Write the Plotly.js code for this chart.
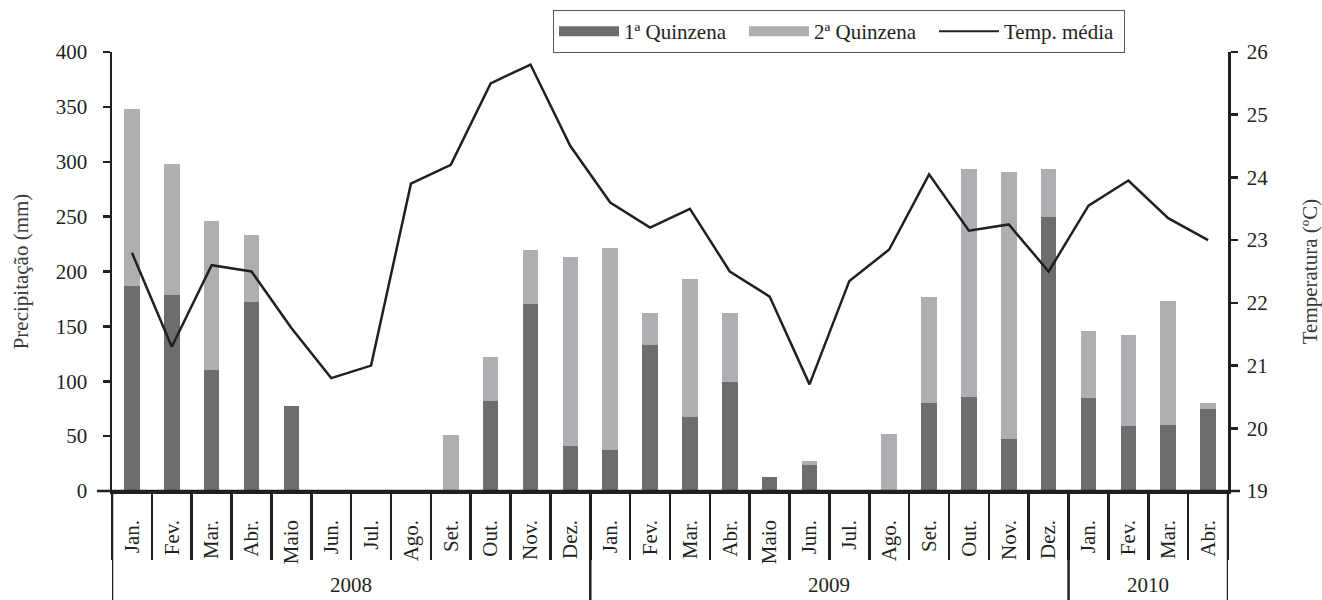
<!DOCTYPE html>
<html>
<head>
<meta charset="utf-8">
<script src="https://cdn.plot.ly/plotly-3.0.1.min.js"></script>
<style>html,body{margin:0;padding:0;background:#fff;}#chart{width:1322px;height:600px;}</style>
</head>
<body>
<div id="chart"></div>
<script>
// ---- data ----
var months = ["Jan.","Fev.","Mar.","Abr.","Maio","Jun.","Jul.","Ago.","Set.","Out.","Nov.","Dez.",
              "Jan.","Fev.","Mar.","Abr.","Maio","Jun.","Jul.","Ago.","Set.","Out.","Nov.","Dez.",
              "Jan.","Fev.","Mar.","Abr."];
var years = ["2008","2008","2008","2008","2008","2008","2008","2008","2008","2008","2008","2008",
             "2009","2009","2009","2009","2009","2009","2009","2009","2009","2009","2009","2009",
             "2010","2010","2010","2010"];
var quinzena1 = [187,179,110,172,77,0,0,0,0,82,170,41,
                 37,133,67,99,13,24,0,0,80,86,47,250,
                 85,59,60,75];
var quinzena2 = [161,119,136,61,0,0,0,0,51,40,50,172,
                 184,29,126,63,0,3.5,0,52,97,207,244,43,
                 61,83,113,5];
var tempMedia = [22.8,21.3,22.6,22.5,21.6,20.8,21.0,23.9,24.2,25.5,25.8,24.5,
                 23.6,23.2,23.5,22.5,22.1,20.7,22.35,22.85,24.05,23.15,23.25,22.5,
                 23.55,23.95,23.35,23.0];
var seriesNames = ["1ª Quinzena","2ª Quinzena","Temp. média"];

// ---- styling ----
var DARK = "#6d6d6f", LIGHT = "#aeafb2", INK = "#231f20";
var FONT = "Liberation Serif, Times New Roman, serif";
var FS = 21;

var xcats = months.map(function(m, i){ return years[i] + " " + m; });

var traces = [
  {type:"bar", x:xcats, y:quinzena1, name:seriesNames[0], marker:{color:DARK, line:{width:0}}, showlegend:false, yaxis:"y"},
  {type:"bar", x:xcats, y:quinzena2, name:seriesNames[1], marker:{color:LIGHT, line:{width:0}}, showlegend:false, yaxis:"y"},
  {type:"scatter", mode:"lines", x:xcats, y:tempMedia, name:seriesNames[2], line:{color:INK, width:2.5}, yaxis:"y2", showlegend:false},
  // legend-only entries (wide swatches as in the reference)
  {type:"scatter", mode:"lines", x:[null], y:[null], name:seriesNames[0], line:{color:DARK, width:12}, yaxis:"y"},
  {type:"scatter", mode:"lines", x:[null], y:[null], name:seriesNames[1], line:{color:LIGHT, width:12}, yaxis:"y"},
  {type:"scatter", mode:"lines", x:[null], y:[null], name:seriesNames[2], line:{color:INK, width:2}, yaxis:"y"}
];

// year group boundaries and centers computed from the years array
var shapes = [], annotations = [];
var groups = [];
years.forEach(function(y, i){
  if (!groups.length || groups[groups.length-1].year !== y) groups.push({year:y, start:i, end:i});
  else groups[groups.length-1].end = i;
});
var bottomPaper = -109/439;
groups.forEach(function(g, k){
  shapes.push({type:"line", xref:"x", yref:"paper", x0:g.start-0.5, x1:g.start-0.5, y0:0, y1:bottomPaper, line:{color:INK, width:2.5}});
  if (k === groups.length-1) shapes.push({type:"line", xref:"x", yref:"paper", x0:g.end+0.5, x1:g.end+0.5, y0:0, y1:bottomPaper, line:{color:INK, width:2.5}});
  annotations.push({xref:"x", yref:"paper", x:(g.start+g.end)/2, y:-94/439, text:g.year, showarrow:false, yanchor:"middle", font:{family:FONT, size:FS, color:INK}});
});
// extended zero line
shapes.push({type:"line", xref:"paper", yref:"paper", x0:-15/1116, x1:1+12/1116, y0:0, y1:0, line:{color:INK, width:2.5}});

var layout = {
  width:1322, height:600,
  margin:{l:112, r:94, t:52, b:109, pad:0, autoexpand:false},
  paper_bgcolor:"#fff", plot_bgcolor:"#fff",
  barmode:"stack", bargap:0.61,
  font:{family:FONT, size:FS, color:INK},
  showlegend:true,
  legend:{orientation:"h", x:(553-112)/1116, xanchor:"left", y:(491-10)/439, yanchor:"top",
          bordercolor:"#555", borderwidth:1, bgcolor:"#fff", itemwidth:60,
          entrywidth:115, entrywidthmode:"pixels",
          font:{family:FONT, size:FS, color:INK}, traceorder:"normal"},
  xaxis:{type:"category", categoryarray:xcats, categoryorder:"array", tickvals:xcats, ticktext:months,
         range:[-0.5, xcats.length-0.5], tickangle:-90, ticks:"outside", tickson:"boundaries",
         ticklen:66, tickwidth:2.5, tickcolor:INK, ticklabelstandoff:18,
         showline:true, linewidth:2.5, linecolor:INK, showgrid:false, zeroline:false,
         tickfont:{family:FONT, size:FS, color:INK}, fixedrange:true, automargin:false},
  yaxis:{range:[0,400], dtick:50, tick0:0, ticks:"outside", ticklen:7, tickwidth:2.5, tickcolor:INK,
         showline:true, linewidth:2.5, linecolor:INK, showgrid:false, zeroline:false, ticklabelstandoff:11,
         tickfont:{family:FONT, size:FS, color:INK}, automargin:false,
         title:{text:"Precipitação (mm)", font:{family:FONT, size:FS, color:"#3a3a3a"}, standoff:22}},
  yaxis2:{range:[19,26], dtick:1, overlaying:"y", side:"right", anchor:"x", ticks:"outside", ticklen:7, tickwidth:2.5, tickcolor:INK,
          showline:true, linewidth:2.5, linecolor:INK, showgrid:false, zeroline:false, ticklabelstandoff:5,
          tickfont:{family:FONT, size:FS, color:INK}, automargin:false,
          title:{text:"Temperatura (ºC)", font:{family:FONT, size:FS, color:"#3a3a3a"}, standoff:47}},
  shapes:shapes,
  annotations:annotations
};

Plotly.newPlot("chart", traces, layout, {displayModeBar:false, staticPlot:true});
</script>
</body>
</html>
